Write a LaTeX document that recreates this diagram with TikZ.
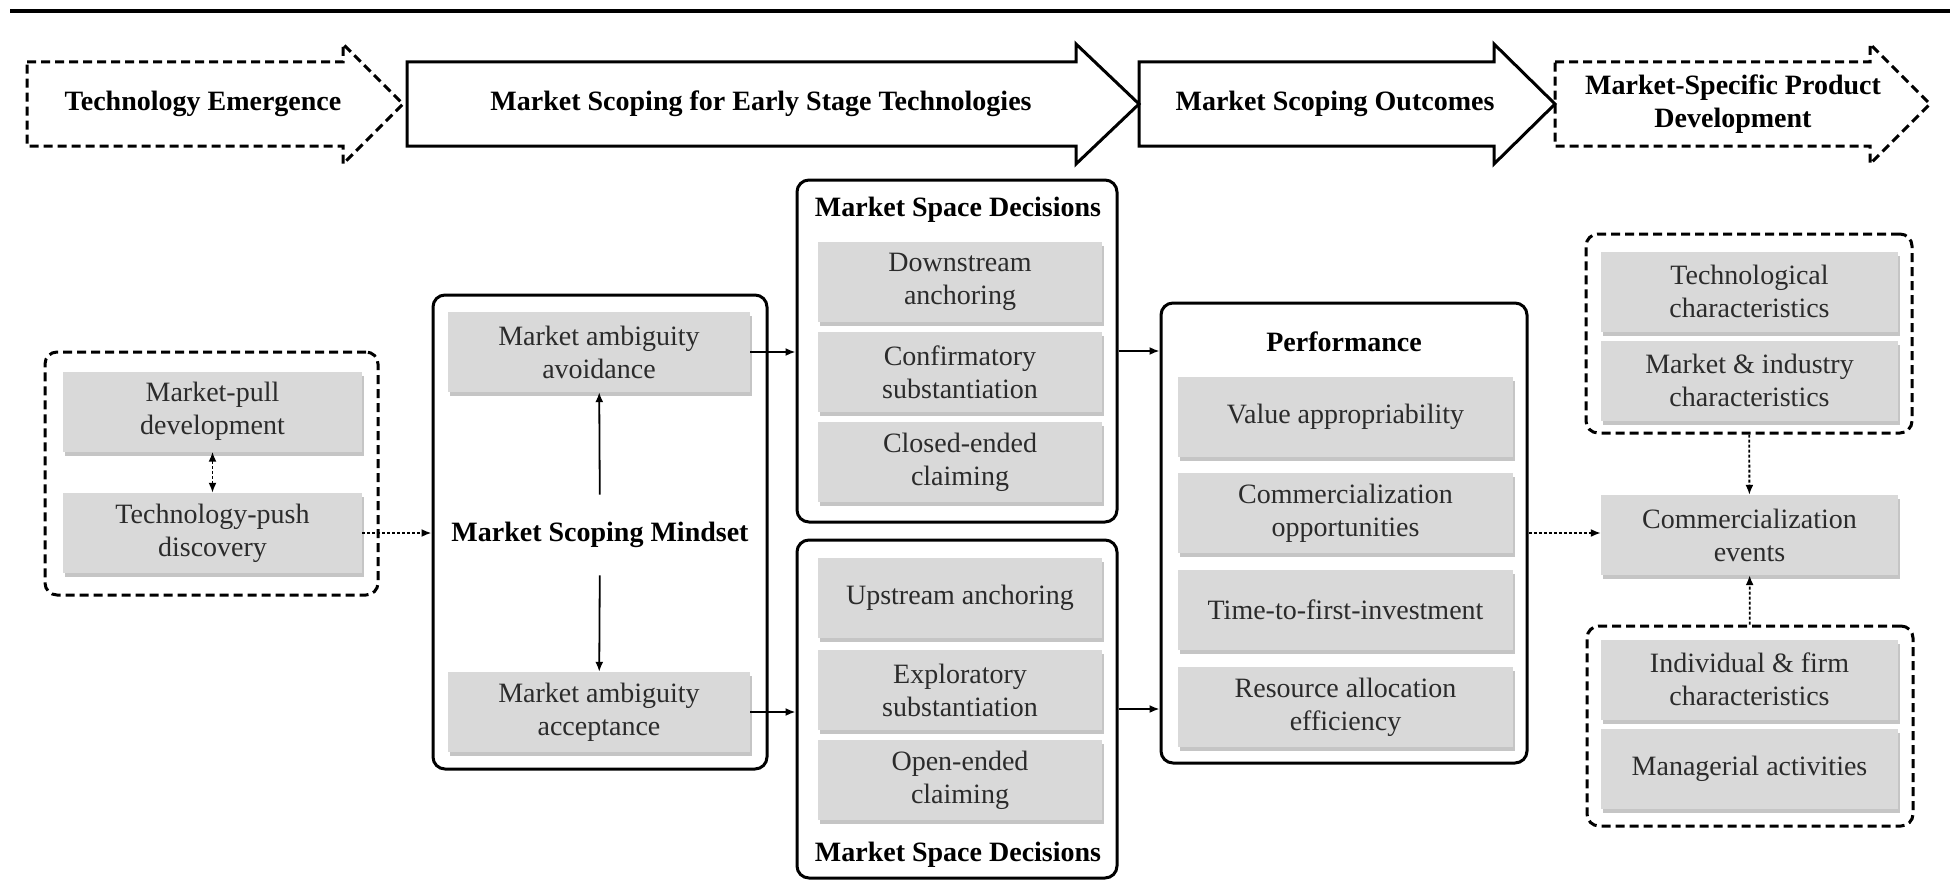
\documentclass[tikz,border=0pt]{standalone}
\usepackage{fontspec}
\setmainfont{Liberation Serif}
\usetikzlibrary{arrows.meta, shadows}
\definecolor{boxgray}{HTML}{D9D9D9}
\definecolor{textgray}{HTML}{2B2B2B}

\begin{document}
\begin{tikzpicture}[x=1pt, y=-1pt, font=\fontsize{28}{33}\selectfont,
                    >={Latex[length=10pt, width=8pt]}]

          % Setup the styles for the boxes
          \tikzset{factor/.style={rectangle,
                                  fill=boxgray,
                                  text=textgray,
                                  align=center,
                                  inner sep=0pt,
                                  minimum height=80pt,
                                  drop shadow={shadow xshift=2pt, shadow yshift=-4pt,
                                               fill=black!45, opacity=0.5}},
                   panel/.style={rectangle, draw, line width=3pt,
                                 rounded corners=12pt, inner sep=0pt},
                   dashpanel/.style={panel, dash pattern=on 9pt off 5pt},
                   heading/.style={font=\fontsize{28}{33}\selectfont\bfseries,
                                   align=center},
                   link/.style={->, line width=1.8pt},
                   dotlink/.style={link, dash pattern=on 3pt off 2pt}}

          % Page and top rule
          \fill[white] (0,0) rectangle (1950,880);
          \useasboundingbox (0,0) rectangle (1950,880);
          \draw[line width=4pt] (10,11) -- (1950,11);

          % Draw the stage arrows
          \draw[line width=3pt, dash pattern=on 9pt off 5pt]
             (27,62) -- (343,62) -- (343,44) -- (403,104) -- (343,164) -- (343,146) -- (27,146) -- cycle;
          \draw[line width=3pt]
             (407,62) -- (1076,62) -- (1076,44) -- (1139,104) -- (1076,164) -- (1076,146) -- (407,146) -- cycle;
          \draw[line width=3pt]
             (1139,62) -- (1494,62) -- (1494,44) -- (1555,104) -- (1494,164) -- (1494,146) -- (1139,146) -- cycle;
          \draw[line width=3pt, dash pattern=on 9pt off 5pt]
             (1555,62) -- (1870,62) -- (1870,44) -- (1930,104) -- (1870,164) -- (1870,146) -- (1555,146) -- cycle;
          \node[heading] (emerge)   at (203,104)  {Technology Emergence};
          \node[heading] (scoping)  at (761,104)  {Market Scoping for Early Stage Technologies};
          \node[heading] (outcomes) at (1335,104) {Market Scoping Outcomes};
          \node[heading] (product)  at (1733,104) {Market-Specific Product\\Development};

          % Draw the sources
          \node[dashpanel, minimum width=333pt, minimum height=243pt] (sources) at (211.5,473.5) {};
          \node[factor, minimum width=299pt] (mpull) at (212.5,411.5) {Market-pull\\development};
          \node[factor, minimum width=299pt] (tpush) at (212.5,533)   {Technology-push\\discovery};

          % Draw the mindset
          \node[panel, minimum width=334pt, minimum height=474pt] (mindset) at (600,532) {};
          \node[factor, minimum width=302pt] (avoid)  at (599,352) {Market ambiguity\\avoidance};
          \node[factor, minimum width=302pt] (accept) at (599,712) {Market ambiguity\\acceptance};
          \node[heading] (mstitle) at (600,535) {Market Scoping Mindset};

          % Draw the market space decisions
          \node[panel, minimum width=320pt, minimum height=342pt] (msdtop) at (957,351) {};
          \node[heading] (msdtoptitle) at (958,210) {Market Space Decisions};
          \node[factor, minimum width=284pt] (down)    at (960,282) {Downstream\\anchoring};
          \node[factor, minimum width=284pt] (confirm) at (960,372) {Confirmatory\\substantiation};
          \node[factor, minimum width=284pt] (closed)  at (960,462) {Closed-ended\\claiming};

          \node[panel, minimum width=320pt, minimum height=338pt] (msdbot) at (957,709) {};
          \node[factor, minimum width=284pt] (up)      at (960,598) {Upstream anchoring};
          \node[factor, minimum width=284pt] (explore) at (960,690) {Exploratory\\substantiation};
          \node[factor, minimum width=284pt] (open)    at (960,780) {Open-ended\\claiming};
          \node[heading] (msdbottitle) at (958,855) {Market Space Decisions};

          % Draw the performance
          \node[panel, minimum width=366pt, minimum height=460pt] (perf) at (1344,533) {};
          \node[heading] (perftitle) at (1344,342) {Performance};
          \node[factor, minimum width=335pt] (value)    at (1345.5,417) {Value appropriability};
          \node[factor, minimum width=335pt] (commopp)  at (1345.5,513) {Commercialization\\opportunities};
          \node[factor, minimum width=335pt] (time)     at (1345.5,610) {Time-to-first-investment};
          \node[factor, minimum width=335pt] (resource) at (1345.5,707) {Resource allocation\\efficiency};

          % Draw the commercialization side
          \node[dashpanel, minimum width=326pt, minimum height=199pt] (context) at (1749,333.5) {};
          \node[factor, minimum width=297pt] (tech)   at (1749.5,291.5) {Technological\\characteristics};
          \node[factor, minimum width=297pt] (market) at (1749.5,380.5) {Market \& industry\\characteristics};
          \node[factor, minimum width=297pt] (events) at (1749.5,535)   {Commercialization\\events};
          \node[dashpanel, minimum width=326pt, minimum height=200pt] (actors) at (1750,726) {};
          \node[factor, minimum width=297pt] (firm)       at (1749.5,679.5) {Individual \& firm\\characteristics};
          \node[factor, minimum width=297pt] (managerial) at (1749.5,768.5) {Managerial activities};

          % Connect the boxes with arrows
          \draw[link] (avoid.east) -- (avoid.east -| msdtop.west);
          \draw[link] (accept.east) -- (accept.east -| msdbot.west);
          \draw[link] (msdtop.east) -- (msdtop.east -| perf.west);
          \draw[link] (msdbot.east) -- (msdbot.east -| perf.west);
          \draw[link, shorten <=24pt] (mstitle) -- (avoid);
          \draw[link, shorten <=24pt] (mstitle) -- (accept);
          \draw[dotlink] (tpush.east) -- (tpush.east -| mindset.west);
          \draw[dotlink] (perf.east) -- (perf.east -| events.west);
          \draw[dotlink] (context) -- (events);
          \draw[dotlink] (actors) -- (events);
          \draw[dotlink, <->] (mpull) -- (tpush);
\end{tikzpicture}
\end{document}
